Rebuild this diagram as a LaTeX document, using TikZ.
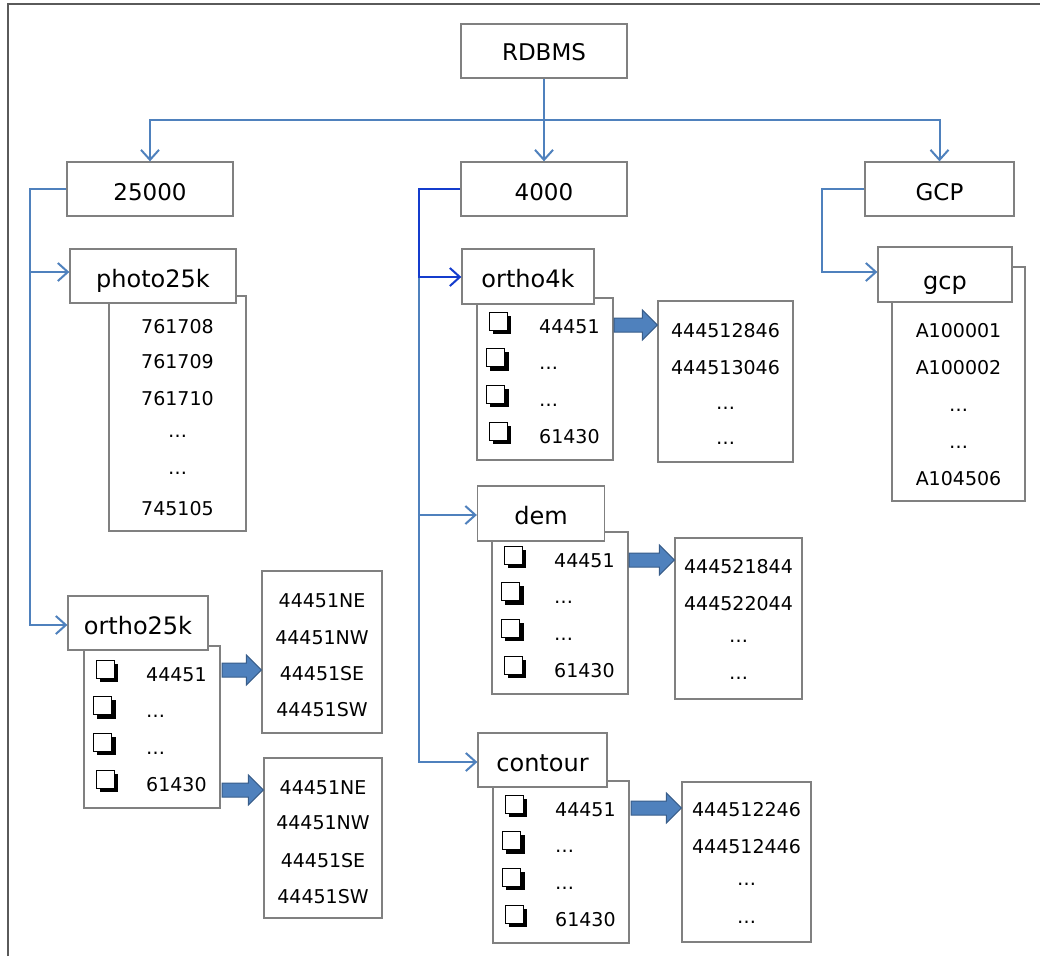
\documentclass[tikz,border=0pt]{standalone}
\usepackage{fontspec}
\setmainfont{DejaVu Sans}
\usetikzlibrary{arrows.meta,calc}
\definecolor{lnblue}{RGB}{79,129,189}
\definecolor{dkblue}{RGB}{20,60,205}
\definecolor{abfill}{RGB}{79,129,189}
\definecolor{abdraw}{RGB}{56,93,138}
\definecolor{boxgray}{RGB}{128,128,128}
\definecolor{framegray}{RGB}{90,90,90}
\newcommand\chkbox[1]{%
  \fill[black] #1 ++(-7.5,-7.5) rectangle ++(18.5,18.5);
  \draw[black,fill=white,line width=1pt] #1 ++(-11,-11) rectangle ++(18,18);}
\newcommand\blockarr[2]{%
  \filldraw[barrow] let \p1=#1, \p2=#2 in
   ({\x1},{\y1+7pt}) -- ({\x2-15pt},{\y1+7pt}) -- ({\x2-15pt},{\y1+15pt}) --
   ({\x2},{\y1}) -- ({\x2-15pt},{\y1-15pt}) -- ({\x2-15pt},{\y1-7pt}) --
   ({\x1},{\y1-7pt}) -- cycle;}
\newcommand\cblist[3]{%
  \begin{scope}[shift={(#2,#3)}]
    \node[lst,minimum width=136pt,minimum height=162pt] (#1box) at (545,379) {};
    \chkbox{(500,323)}\chkbox{(497.5,359.5)}\chkbox{(497.5,396)}\chkbox{(500,433)}
    \node[entw] (#1t1) at (539,333) {44451};
    \node[entw] (#1t2) at (539,369) {…};
    \node[entw] (#1t3) at (539,406) {…};
    \node[entw] (#1t4) at (539,443) {61430};
  \end{scope}}
\begin{document}
\begin{tikzpicture}[x=1pt,y=-1pt,
  hdr/.style={draw=boxgray,line width=1.3pt,fill=white,inner sep=0pt,
    text height=22pt,text depth=0pt,font=\fontsize{23}{27}\selectfont},
  lhdr/.style={hdr,font=\fontsize{24}{28}\selectfont},
  lst/.style={draw=boxgray,line width=1.3pt,fill=white,inner sep=0pt},
  ent/.style={anchor=base,inner sep=0pt,font=\fontsize{19}{23}\selectfont},
  entw/.style={anchor=base west,inner sep=0pt,font=\fontsize{19}{23}\selectfont},
  conn/.style={draw=lnblue,line width=2pt},
  dconn/.style={draw=dkblue,line width=2pt},
  tip/.style={-{Straight Barb[length=10pt,width=18pt]}},
  barrow/.style={fill=abfill,draw=abdraw,line width=1pt}]
\useasboundingbox (0,0) rectangle (1040,956);
\fill[white] (0,0) rectangle (1040,956);
\draw[framegray,line width=1.5pt] (8,956) -- (8,4) -- (1040,4);

% top level
\node[hdr,text height=18pt,minimum width=166pt,minimum height=54pt] (rdbms) at (544,51) {RDBMS};
\node[hdr,minimum width=166pt,minimum height=54pt] (n25000) at (150,189) {25000};
\node[hdr,minimum width=166pt,minimum height=54pt] (n4000) at (544,189) {4000};
\node[hdr,minimum width=149pt,minimum height=54pt] (ngcp) at (939.5,189) {GCP};

% photo25k
\node[lst,minimum width=137pt,minimum height=235pt] (photolist) at (177.5,413.5) {};
\node[lhdr,minimum width=166pt,minimum height=54pt] (photo) at (153,276) {photo25k};
\node[ent] (p1) at (177.5,333) {761708};
\node[ent] (p2) at (177.5,368) {761709};
\node[ent] (p3) at (177.5,405) {761710};
\node[ent] (p4) at (177.5,437) {…};
\node[ent] (p5) at (177.5,474) {…};
\node[ent] (p6) at (177.5,515) {745105};

% ortho25k
\cblist{o25}{-393}{348}
\node[lhdr,minimum width=140pt,minimum height=54pt] (ortho25k) at (138,623) {ortho25k};
\node[lst,minimum width=120pt,minimum height=162pt] (v25a) at (322,652) {};
\node[ent] (v25a1) at (322,607) {44451NE};
\node[ent] (v25a2) at (322,644) {44451NW};
\node[ent] (v25a3) at (322,680) {44451SE};
\node[ent] (v25a4) at (322,716) {44451SW};
\node[lst,minimum width=118pt,minimum height=160pt] (v25b) at (323,838) {};
\node[ent] (v25b1) at (323,794) {44451NE};
\node[ent] (v25b2) at (323,829) {44451NW};
\node[ent] (v25b3) at (323,867) {44451SE};
\node[ent] (v25b4) at (323,903) {44451SW};

% ortho4k
\cblist{o4}{0}{0}
\node[lhdr,minimum width=132pt,minimum height=55pt] (ortho4k) at (528,276.5) {ortho4k};
\node[lst,minimum width=135pt,minimum height=161pt] (v4a) at (725.5,381.5) {};
\node[ent] (v4a1) at (725.5,337) {444512846};
\node[ent] (v4a2) at (725.5,374) {444513046};
\node[ent] (v4a3) at (725.5,409) {…};
\node[ent] (v4a4) at (725.5,444) {…};

% dem
\cblist{dm}{15}{234}
\node[lhdr,minimum width=127pt,minimum height=55pt] (dem) at (541,513.5) {dem};
\node[lst,minimum width=127pt,minimum height=161pt] (vdem) at (738.5,618.5) {};
\node[ent] (vdem1) at (738.5,573) {444521844};
\node[ent] (vdem2) at (738.5,610) {444522044};
\node[ent] (vdem3) at (738.5,642) {…};
\node[ent] (vdem4) at (738.5,679) {…};

% contour
\cblist{ct}{16}{483}
\node[lhdr,minimum width=129pt,minimum height=54pt] (contour) at (542.5,760) {contour};
\node[lst,minimum width=129pt,minimum height=160pt] (vcont) at (746.5,862) {};
\node[ent] (vcont1) at (746.5,816) {444512246};
\node[ent] (vcont2) at (746.5,853) {444512446};
\node[ent] (vcont3) at (746.5,885) {…};
\node[ent] (vcont4) at (746.5,923) {…};

% gcp
\node[lst,minimum width=133pt,minimum height=234pt] (gcplist) at (958.5,384) {};
\node[lhdr,text height=30pt,minimum width=134pt,minimum height=55pt] (gcp) at (945,274.5) {gcp};
\node[ent] (g1) at (958.5,337) {A100001};
\node[ent] (g2) at (958.5,374) {A100002};
\node[ent] (g3) at (958.5,411) {…};
\node[ent] (g4) at (958.5,448) {…};
\node[ent] (g5) at (958.5,485) {A104506};

% top connectors
\coordinate (bar) at (544,120);
\draw[conn,tip] (rdbms.south) -- (n4000.north);
\draw[conn,tip] (bar) -| (n25000.north);
\draw[conn,tip] (bar) -| (ngcp.north);

% 25000 branch
\coordinate (l25) at (30,189);
\coordinate (l25b) at (30,272);
\coordinate (l25c) at (30,625);
\draw[conn,tip] (n25000.west) -- (l25) -- (l25c) -- (l25c -| ortho25k.west);
\draw[conn,tip] (l25b) -- (l25b -| photo.west);

% 4000 branch
\coordinate (l4) at (419,189);
\coordinate (l4a) at (419,277);
\coordinate (l4b) at (419,515);
\coordinate (l4c) at (419,762);
\draw[conn,tip] (l4a) -- (l4c) -- (l4c -| contour.west);
\draw[conn,tip] (l4b) -- (l4b -| dem.west);
\draw[dconn,tip] (n4000.west) -- (l4) -- (l4a) -- (l4a -| ortho4k.west);

% GCP branch
\coordinate (lg) at (822,189);
\coordinate (lgb) at (822,272);
\draw[conn,tip] (ngcp.west) -- (lg) -- (lgb) -- (lgb -| gcp.west);

% block arrows
\coordinate (a1s) at (222,670);
\coordinate (a1e) at (v25a.west |- a1s);
\blockarr{(a1s)}{(a1e)}
\coordinate (a2s) at (222,790);
\coordinate (a2e) at (v25b.west |- a2s);
\blockarr{(a2s)}{(a2e)}
\coordinate (a3s) at (614,325);
\coordinate (a3e) at (v4a.west |- a3s);
\blockarr{(a3s)}{(a3e)}
\coordinate (a4s) at (629,560);
\coordinate (a4e) at (vdem.west |- a4s);
\blockarr{(a4s)}{(a4e)}
\coordinate (a5s) at (631,808);
\coordinate (a5e) at (vcont.west |- a5s);
\blockarr{(a5s)}{(a5e)}
\end{tikzpicture}
\end{document}
